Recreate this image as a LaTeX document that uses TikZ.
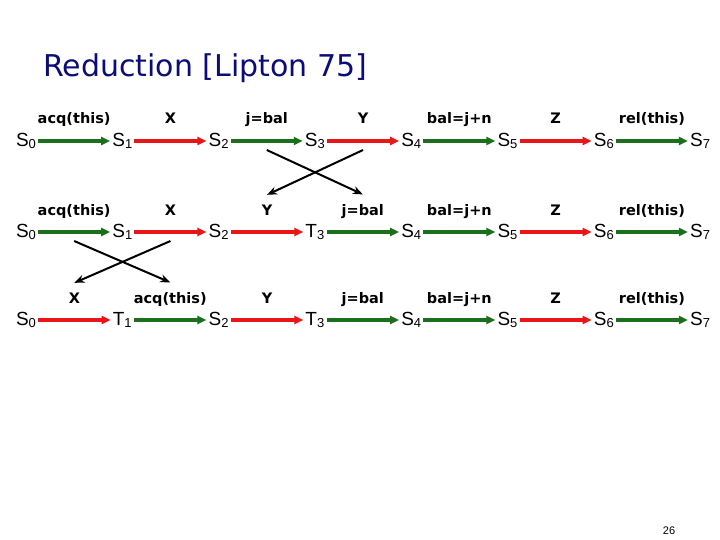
\documentclass[tikz,border=0pt]{standalone}
\usepackage{fontspec}
\setmainfont{Liberation Sans}
\newfontfamily\comicfont{DejaVu Sans}
\usetikzlibrary{arrows.meta, positioning, calc}
\definecolor{colTitle}{RGB}{12,12,120}
\definecolor{colRed}{RGB}{232,22,22}
\definecolor{colGreen}{RGB}{28,112,28}
\newcommand{\stname}[2]{#1\raisebox{-2.5pt}{\fontsize{13}{13}\selectfont #2}}

\begin{document}
\begin{tikzpicture}[
  x=1pt, y=-1pt,
  node distance=96.3pt, on grid,
  state/.style={inner sep=2pt, font=\fontsize{19}{22}\selectfont},
  lbl/.style={inner sep=1pt, anchor=base, yshift=17pt, text=black,
              font=\comicfont\bfseries\fontsize{14.5}{16}\selectfont},
  garr/.style={-{Triangle[length=9pt, width=8pt]}, line width=3.2pt, colGreen},
  rarr/.style={-{Triangle[length=9pt, width=8pt]}, line width=3.2pt, colRed},
  xarr/.style={-{Stealth[length=10pt, width=8pt]}, line width=2pt, black},
]

\fill[white] (0,0) rectangle (720,540);
\useasboundingbox (0,0) rectangle (720,540);

\node[anchor=base west, inner sep=0, text=colTitle,
      font=\comicfont\fontsize{30}{34}\selectfont] (title) at (43,77) {Reduction [Lipton 75]};

% First row
\node[state] (a0) at (26,141) {\stname{S}{0}};
\node[state, right=of a0] (a1) {\stname{S}{1}};
\node[state, right=of a1] (a2) {\stname{S}{2}};
\node[state, right=of a2] (a3) {\stname{S}{3}};
\node[state, right=of a3] (a4) {\stname{S}{4}};
\node[state, right=of a4] (a5) {\stname{S}{5}};
\node[state, right=of a5] (a6) {\stname{S}{6}};
\node[state, right=of a6] (a7) {\stname{S}{7}};

\draw[garr] (a0) -- node[lbl] (a01) {acq(this)} (a1);
\draw[rarr] (a1) -- node[lbl] (a12) {X} (a2);
\draw[garr] (a2) -- node[lbl] (a23) {j=bal} (a3);
\draw[rarr] (a3) -- node[lbl] (a34) {Y} (a4);
\draw[garr] (a4) -- node[lbl] (a45) {bal=j+n} (a5);
\draw[rarr] (a5) -- node[lbl] (a56) {Z} (a6);
\draw[garr] (a6) -- node[lbl] (a67) {rel(this)} (a7);

% Second row
\node[state] (b0) at (26,232) {\stname{S}{0}};
\node[state, right=of b0] (b1) {\stname{S}{1}};
\node[state, right=of b1] (b2) {\stname{S}{2}};
\node[state, right=of b2] (b3) {\stname{T}{3}};
\node[state, right=of b3] (b4) {\stname{S}{4}};
\node[state, right=of b4] (b5) {\stname{S}{5}};
\node[state, right=of b5] (b6) {\stname{S}{6}};
\node[state, right=of b6] (b7) {\stname{S}{7}};

\draw[garr] (b0) -- node[lbl] (b01) {acq(this)} (b1);
\draw[rarr] (b1) -- node[lbl] (b12) {X} (b2);
\draw[rarr] (b2) -- node[lbl] (b23) {Y} (b3);
\draw[garr] (b3) -- node[lbl] (b34) {j=bal} (b4);
\draw[garr] (b4) -- node[lbl] (b45) {bal=j+n} (b5);
\draw[rarr] (b5) -- node[lbl] (b56) {Z} (b6);
\draw[garr] (b6) -- node[lbl] (b67) {rel(this)} (b7);

% Third row
\node[state] (c0) at (26,320) {\stname{S}{0}};
\node[state, right=of c0] (c1) {\stname{T}{1}};
\node[state, right=of c1] (c2) {\stname{S}{2}};
\node[state, right=of c2] (c3) {\stname{T}{3}};
\node[state, right=of c3] (c4) {\stname{S}{4}};
\node[state, right=of c4] (c5) {\stname{S}{5}};
\node[state, right=of c5] (c6) {\stname{S}{6}};
\node[state, right=of c6] (c7) {\stname{S}{7}};

\draw[rarr] (c0) -- node[lbl] (c01) {X} (c1);
\draw[garr] (c1) -- node[lbl] (c12) {acq(this)} (c2);
\draw[rarr] (c2) -- node[lbl] (c23) {Y} (c3);
\draw[garr] (c3) -- node[lbl] (c34) {j=bal} (c4);
\draw[garr] (c4) -- node[lbl] (c45) {bal=j+n} (c5);
\draw[rarr] (c5) -- node[lbl] (c56) {Z} (c6);
\draw[garr] (c6) -- node[lbl] (c67) {rel(this)} (c7);

% Swaps
\draw[xarr] ([yshift=-26pt]a23.base) -- ([yshift=7pt]b34.north);
\draw[xarr] ([yshift=-26pt]a34.base) -- ([yshift=7pt]b23.north);
\draw[xarr] ([yshift=-26pt]b01.base) -- ([yshift=7pt]c12.north);
\draw[xarr] ([yshift=-26pt]b12.base) -- ([yshift=7pt]c01.north);

\node[font=\fontsize{11}{13}\selectfont] (pnum) at (669,531) {26};

\end{tikzpicture}
\end{document}
